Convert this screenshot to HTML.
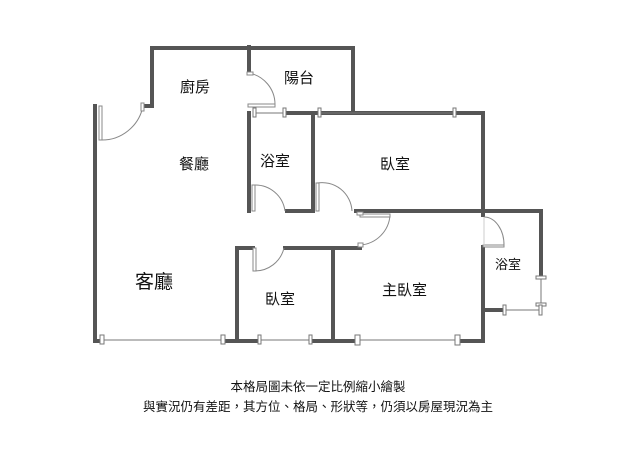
<!DOCTYPE html>
<html><head><meta charset="utf-8"><style>
html,body{margin:0;padding:0;background:#fff;}
svg{display:block;}
text{font-family:"Liberation Sans","Noto Sans CJK TC",sans-serif;fill:#111;}
</style></head><body>
<svg width="638" height="460" viewBox="0 0 638 460">
<g stroke="#555" stroke-width="4" fill="none" stroke-linecap="square">
<!-- outer/kitchen -->
<polyline points="145,106 152,106 152,48 353,48 353,113"/>
<polyline points="95,106 95,341 100,341"/>
<line x1="225" y1="341" x2="258" y2="341"/>
<line x1="312" y1="341" x2="355" y2="341"/>
<line x1="458" y1="341" x2="483" y2="341"/>
<polyline points="483,341 483,247"/>
<polyline points="483,310 503,310"/>
<polyline points="483,215 483,113 313,113 313,211 287,211"/>
<line x1="287" y1="113" x2="353" y2="113"/>
<polyline points="249,47 249,73"/>
<polyline points="249,113 249,211"/>
<polyline points="356,211 541,211 541,276"/>
<polyline points="237,341 237,248 253,248"/>
<line x1="285" y1="248" x2="360" y2="248"/>
<line x1="333" y1="248" x2="333" y2="341"/>
</g>
<!-- windows -->
<g stroke="#777" stroke-width="1" fill="#fff">
<line x1="100" y1="340" x2="225" y2="340"/>
<rect x="100" y="335" width="4" height="9"/><rect x="221" y="335" width="4" height="9"/>
<line x1="258" y1="340" x2="312" y2="340"/>
<rect x="258" y="335" width="3" height="9"/><rect x="309" y="335" width="3" height="9"/>
<line x1="357" y1="340" x2="458" y2="340"/>
<rect x="355" y="335" width="5" height="10"/><rect x="455" y="335" width="5" height="10"/>
<line x1="320" y1="113" x2="455" y2="113"/>
<rect x="318" y="108" width="3" height="9"/><rect x="453" y="108" width="3" height="9"/>
<line x1="255" y1="113" x2="285" y2="113"/>
<rect x="253" y="108" width="3" height="9"/><rect x="283" y="108" width="3" height="9"/>
<line x1="541" y1="277" x2="541" y2="305"/>
<rect x="536" y="276" width="10" height="3"/><rect x="536" y="303" width="10" height="3"/>
<line x1="505" y1="310" x2="541" y2="310"/>
<rect x="503" y="305" width="3" height="10"/><rect x="539" y="305" width="3" height="10"/>
</g>
<!-- doors -->
<g stroke="#888" stroke-width="1" fill="none">
<path d="M100,140 A42,42 0 0 0 143,106"/><rect x="99" y="106" width="3" height="34" fill="#fff"/>
<rect x="141" y="103" width="3" height="8" fill="#fff"/>
<path d="M249,73 A32,32 0 0 1 275,104"/><rect x="247" y="72" width="6" height="3" fill="#fff"/>
<rect x="248" y="104" width="27" height="3" fill="#fff"/>
<path d="M254,185 A30,30 0 0 1 285,211"/><rect x="252" y="185" width="3" height="26" fill="#fff"/>
<path d="M317,183 A30,30 0 0 1 352,211"/><rect x="316" y="183" width="3" height="28" fill="#fff"/>
<path d="M390,215 A32,32 0 0 1 360,245"/><rect x="360" y="214" width="30" height="3" fill="#fff"/>
<rect x="357" y="212" width="6" height="3" fill="#fff"/><rect x="358" y="243" width="5" height="4" fill="#fff"/>
<path d="M254,271 A30,30 0 0 0 284,248"/><rect x="253" y="248" width="3" height="23" fill="#fff"/>
<path d="M484,217 A20,28 0 0 1 504,246"/><rect x="483" y="245" width="21" height="2" fill="#fff"/>
<line x1="484" y1="217" x2="484" y2="246" stroke="#ccc"/>
</g>
<g font-size="15">
<text x="180" y="92">廚房</text>
<text x="284" y="83">陽台</text>
<text x="179" y="169">餐廳</text>
<text x="260" y="166">浴室</text>
<text x="380" y="169">臥室</text>
<text x="265" y="304">臥室</text>
<text x="382" y="295">主臥室</text>
</g>
<text x="135" y="288" font-size="19">客廳</text>
<text x="495" y="269" font-size="13">浴室</text>
<text x="318" y="391" font-size="12.5" text-anchor="middle">本格局圖未依一定比例縮小繪製</text>
<text x="318" y="411" font-size="12.5" text-anchor="middle">與實況仍有差距，其方位、格局、形狀等，仍須以房屋現況為主</text>
</svg>
</body></html>
